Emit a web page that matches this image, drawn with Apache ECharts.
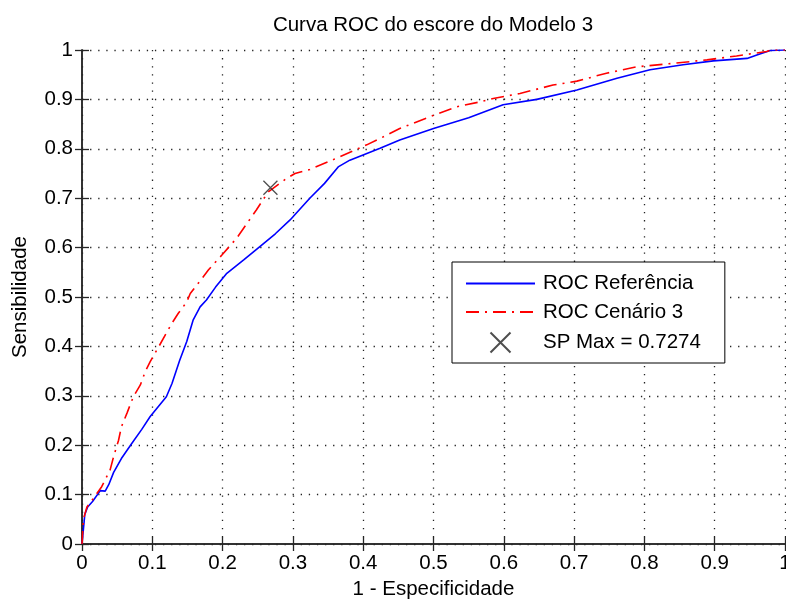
<!DOCTYPE html>
<html>
<head>
<meta charset="utf-8">
<script src="https://cdn.jsdelivr.net/npm/echarts@6/dist/echarts.min.js"></script>
<style>
  html, body { margin: 0; padding: 0; background: #fff; overflow: hidden; }
  #chart { width: 786px; height: 601px; }
</style>
</head>
<body>
<div id="chart"></div>
<script>
// ROC curve of the reference score: [1 - specificity, sensitivity]
const rocReferencia = [
  [0, 0], [0.002, 0.03], [0.004, 0.06], [0.008, 0.075], [0.015, 0.086],
  [0.026, 0.108], [0.033, 0.107], [0.038, 0.12], [0.045, 0.145], [0.056, 0.173],
  [0.071, 0.204], [0.085, 0.232], [0.097, 0.258], [0.12, 0.298], [0.128, 0.325],
  [0.139, 0.372], [0.149, 0.41], [0.158, 0.453], [0.168, 0.48], [0.177, 0.494],
  [0.19, 0.52], [0.206, 0.548], [0.23, 0.575], [0.253, 0.602], [0.275, 0.628],
  [0.296, 0.656], [0.324, 0.70], [0.345, 0.73], [0.365, 0.764], [0.381, 0.777],
  [0.424, 0.801], [0.452, 0.818], [0.5, 0.841], [0.55, 0.863], [0.599, 0.889],
  [0.647, 0.9], [0.704, 0.919], [0.761, 0.943], [0.808, 0.96], [0.855, 0.97],
  [0.898, 0.978], [0.946, 0.983], [0.96, 0.99], [0.979, 0.999], [1, 1]
];

// ROC curve of scenario 3
const rocCenario3 = [
  [0, 0], [0.002, 0.05], [0.007, 0.075], [0.015, 0.09], [0.028, 0.116],
  [0.04, 0.15], [0.045, 0.177], [0.052, 0.21], [0.056, 0.237], [0.064, 0.265],
  [0.073, 0.298], [0.083, 0.322], [0.09, 0.349], [0.097, 0.369], [0.109, 0.399],
  [0.12, 0.427], [0.128, 0.447], [0.137, 0.467], [0.149, 0.49], [0.154, 0.507],
  [0.18, 0.555], [0.199, 0.585], [0.22, 0.619], [0.248, 0.676], [0.265, 0.713],
  [0.291, 0.74], [0.303, 0.75], [0.324, 0.758], [0.367, 0.784], [0.405, 0.808],
  [0.424, 0.821], [0.452, 0.841], [0.495, 0.865], [0.533, 0.885], [0.566, 0.895],
  [0.585, 0.902], [0.623, 0.912], [0.67, 0.929], [0.704, 0.937], [0.746, 0.953],
  [0.789, 0.966], [0.841, 0.973], [0.889, 0.98], [0.931, 0.988], [0.974, 0.997],
  [0.98, 1], [1, 1]
];

// Operating point with the maximum SP index
const spMax = [[0.268, 0.721]];

const seriesNames = ['ROC Referência', 'ROC Cenário 3', 'SP Max = 0.7274'];
const chartTitle = 'Curva ROC do escore do Modelo 3';
const xName = '1 - Especificidade';
const yName = 'Sensibilidade';

const FONT = 'Liberation Sans, Arial, sans-serif';
const FS = 20.5;
const AXIS_COLOR = '#262626';

const gridLine = { show: true, lineStyle: { color: '#222', width: 1.3, type: [1.3, 6.8] } };
const inTick = { show: true, inside: true, length: 7, lineStyle: { color: AXIS_COLOR, width: 1.3 } };
const axLine = { show: true, lineStyle: { color: AXIS_COLOR, width: 1.5 } };
const lbl = { color: '#000', fontFamily: FONT, fontSize: FS };

const chart = echarts.init(document.getElementById('chart'), null, {
  renderer: 'canvas', width: 786, height: 601
});

chart.setOption({
  backgroundColor: '#fff',
  animation: false,
  title: {
    text: chartTitle,
    left: 433,
    top: 15,
    textAlign: 'center',
    padding: 0,
    textStyle: { fontFamily: FONT, fontSize: FS, fontWeight: 'normal', color: '#000' }
  },
  grid: {
    left: 82, right: 1, top: 50, bottom: 57,
    containLabel: false,
    outerBoundsMode: 'none'
  },
  legend: {
    orient: 'vertical',
    left: 452,
    top: 262,
    itemWidth: 69,
    itemHeight: 20,
    itemGap: 7.5,
    padding: [11, 24, 8, 13],
    backgroundColor: '#fff',
    borderColor: '#000',
    borderWidth: 1,
    selectedMode: false,
    textStyle: { fontFamily: FONT, fontSize: FS, color: '#000', padding: [0, 0, 0, 3] },
    data: [
      { name: seriesNames[0], itemStyle: { opacity: 0 } },
      { name: seriesNames[1], itemStyle: { opacity: 0 } },
      { name: seriesNames[2] }
    ]
  },
  xAxis: [
    {
      type: 'value', min: 0, max: 1, interval: 0.1, position: 'bottom',
      name: xName, nameLocation: 'middle', nameGap: 27,
      nameTextStyle: { fontFamily: FONT, fontSize: FS, color: '#000' },
      axisLine: axLine, axisTick: inTick, splitLine: gridLine,
      axisLabel: Object.assign({ margin: 9 }, lbl)
    },
    {
      type: 'value', min: 0, max: 1, interval: 0.1, position: 'top',
      axisLine: axLine, axisTick: inTick, splitLine: { show: false },
      axisLabel: { show: false }
    }
  ],
  yAxis: [
    {
      type: 'value', min: 0, max: 1, interval: 0.1, position: 'left',
      name: yName, nameLocation: 'middle', nameGap: 51, nameRotate: 90,
      nameTextStyle: { fontFamily: FONT, fontSize: FS, color: '#000' },
      axisLine: axLine, axisTick: inTick, splitLine: gridLine,
      axisLabel: Object.assign({ margin: 9 }, lbl)
    },
    {
      type: 'value', min: 0, max: 1, interval: 0.1, position: 'right',
      axisLine: axLine, axisTick: inTick, splitLine: { show: false },
      axisLabel: { show: false }
    }
  ],
  series: [
    {
      name: seriesNames[0],
      type: 'line',
      data: rocReferencia,
      symbol: 'none',
      lineStyle: { color: '#0000ff', width: 1.6 },
      itemStyle: { color: '#0000ff' },
      z: 3
    },
    {
      name: seriesNames[1],
      type: 'line',
      data: rocCenario3,
      symbol: 'none',
      lineStyle: { color: '#ff0000', width: 1.6, type: [13, 6, 2, 6] },
      itemStyle: { color: '#ff0000' },
      z: 4
    },
    {
      name: seriesNames[2],
      type: 'scatter',
      data: spMax,
      symbol: 'path://M0,0L10,10M0,10L10,0',
      symbolSize: 14,
      symbolKeepAspect: true,
      itemStyle: { color: 'none', borderColor: '#222', borderWidth: 1.3 },
      z: 5
    }
  ]
});
</script>
</body>
</html>
